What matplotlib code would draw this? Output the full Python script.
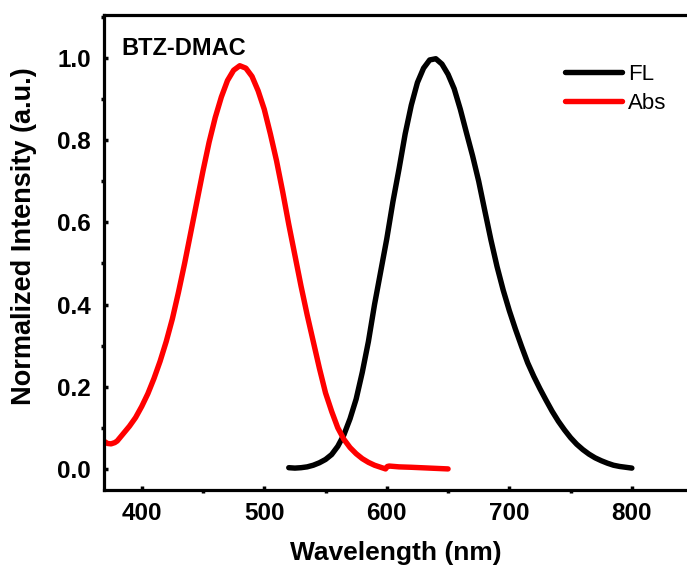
import matplotlib
matplotlib.use("Agg")
import matplotlib.pyplot as plt
from matplotlib.ticker import MultipleLocator, FormatStrFormatter

plt.rcParams['font.family'] = ['Liberation Sans', 'DejaVu Sans']

# absorption spectrum
abs_wl = [370, 372, 375, 378, 380, 385, 390, 395, 400, 405, 410, 415, 420, 425,
          430, 435, 440, 445, 450, 455, 460, 465, 470, 475, 480, 485, 490, 495,
          500, 505, 510, 515, 520, 525, 530, 535, 540, 545, 550, 555, 560, 565,
          570, 575, 580, 585, 590, 595, 599, 600.5, 602, 610, 620, 635, 650]
abs_int = [0.066, 0.062, 0.061, 0.064, 0.068, 0.086, 0.104, 0.125, 0.152, 0.183,
           0.22, 0.262, 0.31, 0.365, 0.43, 0.50, 0.575, 0.65, 0.725, 0.795,
           0.855, 0.905, 0.945, 0.970, 0.981, 0.975, 0.955, 0.92, 0.875, 0.815,
           0.75, 0.675, 0.595, 0.52, 0.445, 0.375, 0.31, 0.245, 0.185, 0.14,
           0.10, 0.072, 0.052, 0.037, 0.025, 0.016, 0.009, 0.004, 0.0, 0.006,
           0.007, 0.005, 0.004, 0.002, 0.0]

# fluorescence spectrum
fl_wl = [520, 525, 530, 535, 540, 545, 550, 555, 560, 565, 570, 575, 580, 585,
         590, 595, 600, 605, 610, 615, 620, 625, 630, 635, 640, 645, 650, 655,
         660, 665, 670, 675, 680, 685, 690, 695, 700, 705, 710, 715, 720, 725,
         730, 735, 740, 745, 750, 755, 760, 765, 770, 775, 780, 785, 790, 795, 800]
fl_int = [0.003, 0.002, 0.003, 0.005, 0.009, 0.015, 0.023, 0.035, 0.055, 0.083,
          0.122, 0.17, 0.235, 0.31, 0.40, 0.48, 0.56, 0.65, 0.73, 0.815,
          0.885, 0.94, 0.975, 0.995, 0.998, 0.985, 0.96, 0.925, 0.875, 0.818,
          0.762, 0.70, 0.628, 0.557, 0.492, 0.435, 0.385, 0.34, 0.298, 0.258,
          0.225, 0.195, 0.167, 0.14, 0.116, 0.095, 0.076, 0.06, 0.047, 0.036,
          0.027, 0.02, 0.014, 0.009, 0.006, 0.004, 0.002]

fig = plt.figure(figsize=(6.87, 5.67), dpi=100)
ax = fig.add_axes([0.151, 0.136, 0.849, 0.838])

ax.plot(fl_wl, fl_int, color='black', lw=3.9, label='FL',
        solid_capstyle='round', solid_joinstyle='round')
ax.plot(abs_wl, abs_int, color='#ff0000', lw=3.9, label='Abs',
        solid_capstyle='round', solid_joinstyle='round')

ax.set_xlim(369, 845)
ax.set_ylim(-0.051, 1.105)
ax.xaxis.set_major_locator(MultipleLocator(100))
ax.xaxis.set_minor_locator(MultipleLocator(50))
ax.yaxis.set_major_locator(MultipleLocator(0.2))
ax.yaxis.set_minor_locator(MultipleLocator(0.1))
ax.yaxis.set_major_formatter(FormatStrFormatter('%.1f'))

for s in ['left', 'bottom', 'top']:
    ax.spines[s].set_linewidth(2.3)
ax.spines['right'].set_visible(False)

ax.tick_params(which='major', direction='in', length=3, width=2.5, pad=9,
               labelsize=17.5, top=False, right=False)
ax.tick_params(which='minor', direction='out', length=2.5, width=2.5,
               top=False, right=False)
for lab in ax.get_xticklabels() + ax.get_yticklabels():
    lab.set_fontweight('bold')

ax.set_xlabel('Wavelength (nm)', fontsize=19, fontweight='bold', labelpad=11)
ax.set_ylabel('Normalized Intensity (a.u.)', fontsize=19.5, fontweight='bold')
ax.yaxis.set_label_coords(-0.115, 0.535)

ax.text(0.031, 0.916, 'BTZ-DMAC', transform=ax.transAxes, fontsize=17,
        fontweight='bold', ha='left', va='baseline')

ax.legend(loc='upper left', bbox_to_anchor=(0.79, 0.896), frameon=False,
          fontsize=16, handlelength=2.6, handletextpad=0.25, borderpad=0,
          borderaxespad=0, labelspacing=0.35)

fig.savefig('out.png', dpi=100)
